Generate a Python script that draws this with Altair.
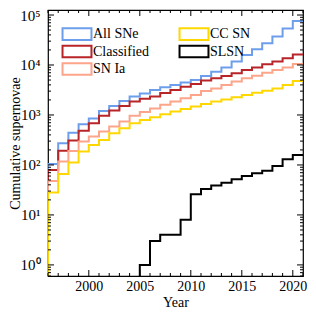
import altair as alt
import pandas as pd

# ---- data ----
years = list(range(1996, 2021))
all_sne = [105, 272, 443, 650, 855, 1200, 1510, 1900, 2340, 2700, 3150, 3600, 4000,
           4450, 5000, 6000, 7350, 8950, 11700, 15800, 20600, 27200, 37000, 54000, 76000]
classified = [79, 193, 307, 485, 680, 960, 1230, 1510, 1850, 2100, 2350, 2750, 3150,
              3650, 4170, 4870, 5400, 6000, 6800, 7940, 8950, 10300, 11700, 13600, 16300]
sn_ia = [48, 117, 190, 293, 370, 465, 585, 740, 960, 1150, 1350, 1600, 1850,
         2150, 2510, 3020, 3400, 3980, 4650, 5400, 6100, 7000, 7940, 8950, 10500]
cc_sn = [28, 66, 112, 185, 251, 316, 430, 540, 680, 790, 900, 1030, 1170,
         1310, 1470, 1660, 1850, 2050, 2250, 2510, 2800, 3070, 3400, 3980, 4790]
slsn_years = list(range(2005, 2021))
slsn = [1, 3, 4, 4, 8, 26, 33, 39, 44, 52, 60, 68, 77, 95, 130, 158]

series_names = ["All SNe", "Classified", "SN Ia", "CC SN", "SLSN"]
colors = {"All SNe": "#6d9eeb", "Classified": "#b82428", "SN Ia": "#fca58a",
          "CC SN": "#ffd700", "SLSN": "#000000"}

x_major = [2000, 2005, 2010, 2015, 2020]
y_major = [1, 10, 100, 1000, 10000, 100000]
X_DOM = [1996, 2021]
Y_DOM = [0.6, 126000]
ZERO = 0.05  # below the plotted range (cumulative count of zero)

# ---- build long table ----
rows = []
def add(name, yrs, vals):
    rows.append({"series": name, "year": yrs[0] - 1, "value": ZERO, "o": 0})
    for i, (yr, v) in enumerate(zip(yrs, vals)):
        rows.append({"series": name, "year": yr, "value": v, "o": i + 1})
    rows.append({"series": name, "year": yrs[-1] + 1, "value": vals[-1], "o": len(vals) + 1})

add("All SNe", years, all_sne)
add("Classified", years, classified)
add("SN Ia", years, sn_ia)
add("CC SN", years, cc_sn)
add("SLSN", slsn_years, slsn)
df = pd.DataFrame(rows)

W, H = 255, 266
FONT = "Liberation Serif"

xscale = alt.Scale(domain=X_DOM, nice=False, zero=False)
yscale = alt.Scale(type="log", domain=Y_DOM, nice=False)

sup = "'10' + (datum.value == 1 ? '\u2070' : datum.value == 10 ? '\u00b9' : datum.value == 100 ? '\u00b2' : datum.value == 1000 ? '\u00b3' : datum.value == 10000 ? '\u2074' : '\u2075')"

xaxis = alt.Axis(values=x_major, format="d", ticks=False, domain=False, grid=False,
                 labelFont=FONT, labelFontSize=14, labelColor="black", labelPadding=3,
                 title="Year", titleFont=FONT, titleFontSize=14, titleFontWeight="normal",
                 titleColor="black", titleY=30, titleBaseline="alphabetic")
yaxis = alt.Axis(values=y_major, labelExpr=sup, ticks=False, domain=False, grid=False,
                 labelFont=FONT, labelFontSize=15, labelColor="black", labelPadding=8,
                 title="Cumulative supernovae", titleFont=FONT, titleFontSize=14,
                 titleFontWeight="normal", titleColor="black",
                 titleX=-29, titleY=H / 2, titleAngle=-90, titleBaseline="alphabetic")

lines = alt.Chart(df).mark_line(interpolate="step-after", clip=True, strokeWidth=2).encode(
    x=alt.X("year:Q", scale=xscale, axis=xaxis),
    y=alt.Y("value:Q", scale=yscale, axis=yaxis),
    color=alt.Color("series:N",
                    scale=alt.Scale(domain=series_names, range=[colors[n] for n in series_names]),
                    legend=alt.Legend(title=None, orient="none", legendX=22, legendY=17,
                                      columns=2, columnPadding=26, rowPadding=-2.5,
                                      symbolType="M-2.5,-1H2.5V1H-2.5Z", symbolSize=134,
                                      symbolStrokeWidth=2, symbolFillColor="transparent",
                                      labelFont=FONT, labelFontSize=14, labelColor="black",
                                      labelOffset=9, padding=0)),
    order=alt.Order("o:Q"),
)

# ---- inward ticks ----
minor_y = []
for k in range(-1, 6):
    for m in range(2, 10):
        v = m * 10 ** k
        if Y_DOM[0] <= v <= Y_DOM[1]:
            minor_y.append(v)
minor_x = [y for y in range(X_DOM[0], X_DOM[1] + 1) if y not in x_major]

ty_major = pd.DataFrame({"value": y_major})
ty_minor = pd.DataFrame({"value": minor_y})
tx_major = pd.DataFrame({"year": x_major})
tx_minor = pd.DataFrame({"year": minor_x})

def yticks(data, length):
    ys = alt.Y("value:Q", scale=yscale)
    left = alt.Chart(data).mark_rule(color="black", strokeWidth=1).encode(
        y=ys, x=alt.value(0), x2=alt.value(length))
    right = alt.Chart(data).mark_rule(color="black", strokeWidth=1).encode(
        y=ys, x=alt.value(W), x2=alt.value(W - length))
    return [left, right]

def xticks(data, length):
    xs = alt.X("year:Q", scale=xscale)
    bottom = alt.Chart(data).mark_rule(color="black", strokeWidth=1).encode(
        x=xs, y=alt.value(H), y2=alt.value(H - length))
    top = alt.Chart(data).mark_rule(color="black", strokeWidth=1).encode(
        x=xs, y=alt.value(0), y2=alt.value(length))
    return [bottom, top]

chart = alt.layer(
    lines,
    *yticks(ty_major, 6), *yticks(ty_minor, 3),
    *xticks(tx_major, 6), *xticks(tx_minor, 3),
).properties(
    width=W, height=H,
    autosize=alt.AutoSizeParams(type="none"),
    padding={"left": 40, "top": 2, "right": 5, "bottom": 38},
).configure_view(stroke="black", strokeWidth=1.2)

chart.save("out.html", embed_options={"renderer": "svg", "actions": False})
